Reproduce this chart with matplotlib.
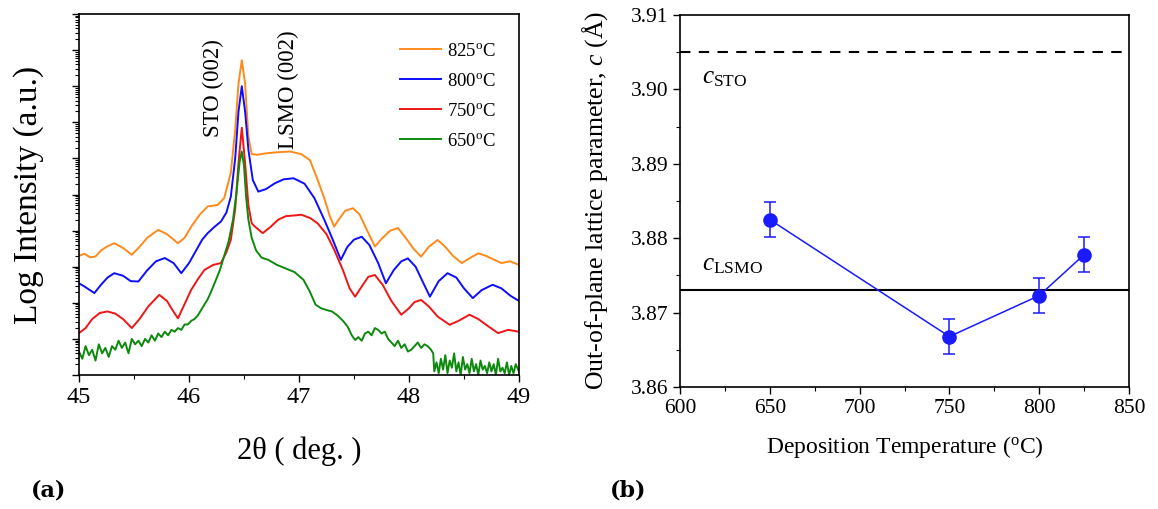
import matplotlib
matplotlib.use("Agg")
import numpy as np
import matplotlib.pyplot as plt
from matplotlib.ticker import LogLocator, MultipleLocator, NullFormatter, FormatStrFormatter

# ---- panel (a): XRD scans, values are log10(intensity) ----
x_825 = [45.00, 45.05, 45.10, 45.15, 45.20, 45.25, 45.32, 45.40, 45.48, 45.55,
         45.62, 45.72, 45.80, 45.90, 45.96, 46.02, 46.10, 46.17, 46.26, 46.32,
         46.38, 46.42, 46.45, 46.48, 46.51, 46.54, 46.57, 46.62, 46.70, 46.80,
         46.92, 47.02, 47.10, 47.17, 47.23, 47.28, 47.32, 47.36, 47.42, 47.49,
         47.55, 47.62, 47.69, 47.76, 47.83, 47.90, 47.97, 48.04, 48.11, 48.18,
         48.26, 48.33, 48.40, 48.48, 48.56, 48.63, 48.70, 48.77, 48.84, 48.92,
         49.00]
logi_825 = [3.30, 3.36, 3.26, 3.28, 3.45, 3.55, 3.65, 3.52, 3.33, 3.55,
            3.80, 4.02, 3.90, 3.65, 3.80, 4.11, 4.45, 4.67, 4.71, 4.90,
            5.60, 6.79, 8.07, 8.72, 8.07, 6.60, 6.12, 6.10, 6.14, 6.17,
            6.19, 6.12, 5.95, 5.40, 4.90, 4.40, 4.11, 4.30, 4.55, 4.62,
            4.45, 4.00, 3.56, 3.80, 4.00, 4.07, 3.80, 3.50, 3.28, 3.55,
            3.74, 3.55, 3.30, 3.10, 3.25, 3.37, 3.30, 3.20, 3.10, 3.15,
            3.05]

x_800 = [45.00, 45.05, 45.10, 45.14, 45.20, 45.26, 45.32, 45.40, 45.47, 45.54,
         45.62, 45.70, 45.78, 45.86, 45.93, 46.00, 46.05, 46.12, 46.17, 46.23,
         46.29, 46.34, 46.38, 46.42, 46.45, 46.48, 46.51, 46.54, 46.58, 46.63,
         46.70, 46.78, 46.86, 46.95, 47.05, 47.14, 47.23, 47.30, 47.38, 47.44,
         47.50, 47.57, 47.64, 47.72, 47.79, 47.86, 47.93, 47.99, 48.06, 48.13,
         48.19, 48.27, 48.35, 48.43, 48.50, 48.58, 48.66, 48.76, 48.84, 48.92,
         49.00]
logi_800 = [2.54, 2.45, 2.35, 2.27, 2.50, 2.70, 2.82, 2.75, 2.60, 2.59,
            2.90, 3.15, 3.24, 3.10, 2.82, 3.10, 3.37, 3.75, 3.93, 4.10,
            4.25, 4.50, 4.94, 6.00, 7.30, 8.00, 7.30, 6.24, 5.40, 5.08,
            5.15, 5.31, 5.42, 5.45, 5.30, 4.90, 4.30, 3.80, 3.19, 3.55,
            3.75, 3.83, 3.60, 3.10, 2.54, 2.90, 3.15, 3.23, 3.00, 2.55,
            2.17, 2.60, 2.82, 2.70, 2.40, 2.13, 2.35, 2.50, 2.40, 2.20,
            2.05]

x_750 = [45.00, 45.06, 45.12, 45.19, 45.26, 45.33, 45.40, 45.48, 45.55, 45.63,
         45.73, 45.80, 45.86, 45.90, 45.95, 46.02, 46.08, 46.14, 46.22, 46.29,
         46.34, 46.38, 46.42, 46.45, 46.48, 46.51, 46.54, 46.57, 46.60, 46.67,
         46.74, 46.81, 46.88, 46.96, 47.02, 47.10, 47.17, 47.25, 47.32, 47.40,
         47.46, 47.51, 47.57, 47.63, 47.69, 47.76, 47.84, 47.93, 48.00, 48.05,
         48.11, 48.18, 48.26, 48.37, 48.45, 48.55, 48.63, 48.72, 48.81, 48.90,
         49.00]
logi_750 = [1.16, 1.30, 1.55, 1.72, 1.76, 1.70, 1.55, 1.30, 1.55, 1.90,
            2.22, 2.05, 1.75, 1.57, 1.90, 2.36, 2.65, 2.91, 3.05, 3.10,
            3.40, 3.74, 4.60, 5.87, 6.85, 5.87, 4.70, 4.20, 4.11, 3.93,
            4.10, 4.30, 4.40, 4.42, 4.44, 4.35, 4.20, 3.90, 3.47, 2.90,
            2.40, 2.17, 2.45, 2.72, 2.77, 2.50, 2.05, 1.67, 1.85, 2.02,
            2.08, 1.90, 1.62, 1.39, 1.50, 1.67, 1.55, 1.35, 1.16, 1.25,
            1.20]

x_650 = [45.00, 45.03, 45.06, 45.09, 45.12, 45.15, 45.18, 45.21, 45.24, 45.27,
         45.30, 45.33, 45.36, 45.39, 45.42, 45.45, 45.48, 45.51, 45.54, 45.57,
         45.60, 45.63, 45.66, 45.69, 45.72, 45.75, 45.78, 45.81, 45.84, 45.87,
         45.90, 45.93, 45.96, 45.99, 46.02, 46.05, 46.08, 46.11, 46.14, 46.17,
         46.20, 46.24, 46.28, 46.32, 46.36, 46.40, 46.43, 46.46, 46.48, 46.50,
         46.52, 46.54, 46.57, 46.61, 46.66, 46.72, 46.80, 46.88, 46.96, 47.04,
         47.10, 47.15, 47.20, 47.25, 47.30, 47.35, 47.40, 47.44, 47.48, 47.51,
         47.54, 47.57, 47.60, 47.63, 47.66, 47.69, 47.72, 47.75, 47.78, 47.81,
         47.84, 47.87, 47.90, 47.93, 47.96, 47.99, 48.02, 48.05, 48.08, 48.11,
         48.14, 48.17, 48.20, 48.22, 48.23, 48.25, 48.27, 48.29, 48.31, 48.33,
         48.35, 48.37, 48.39, 48.41, 48.43, 48.45, 48.47, 48.49, 48.51, 48.53,
         48.55, 48.57, 48.59, 48.61, 48.63, 48.65, 48.67, 48.69, 48.71, 48.73,
         48.75, 48.77, 48.79, 48.81, 48.83, 48.85, 48.87, 48.89, 48.91, 48.93,
         48.95, 48.97, 49.00]
logi_650 = [0.65, 0.45, 0.80, 0.55, 0.70, 0.40, 0.85, 0.60, 0.75, 0.50,
            0.80, 0.70, 0.95, 0.75, 0.90, 0.60, 1.00, 0.85, 0.95, 0.80,
            1.00, 0.90, 1.10, 0.95, 1.15, 1.05, 1.20, 1.10, 1.25, 1.20,
            1.30, 1.25, 1.40, 1.40, 1.50, 1.55, 1.65, 1.80, 1.95, 2.10,
            2.30, 2.60, 2.90, 3.30, 3.70, 4.30, 5.00, 5.90, 6.19, 5.80,
            4.90, 4.30, 3.80, 3.45, 3.25, 3.19, 3.05, 2.95, 2.85, 2.64,
            2.30, 1.95, 1.85, 1.80, 1.76, 1.65, 1.50, 1.35, 1.10, 0.97,
            1.05, 0.95, 1.15, 1.20, 1.10, 1.30, 1.25, 1.15, 1.20, 1.00,
            0.90, 0.80, 0.95, 0.75, 0.85, 0.65, 0.70, 0.80, 0.90, 0.75,
            0.85, 0.80, 0.70, 0.60, 0.10, 0.35, 0.05, 0.45, 0.15, 0.55,
            0.05, 0.40, 0.20, 0.60, 0.10, 0.35, 0.00, 0.50, 0.15, 0.30,
            0.05, 0.45, 0.10, 0.30, 0.00, 0.40, 0.15, 0.25, 0.05, 0.35,
            0.10, 0.30, 0.00, 0.45, 0.10, 0.20, 0.05, 0.35, 0.00, 0.25,
            0.05, 0.30, 0.10]

scan_labels = ["825$^{\\mathrm{o}}$C", "800$^{\\mathrm{o}}$C",
               "750$^{\\mathrm{o}}$C", "650$^{\\mathrm{o}}$C"]
scan_colors = ["#ff8a1c", "#0d0dff", "#f01515", "#0d8a0d"]

# ---- panel (b): lattice parameter vs deposition temperature ----
temps = [650, 750, 800, 825]
c_param = [3.8825, 3.8668, 3.8723, 3.8778]
c_err = [0.0023, 0.0023, 0.0023, 0.0023]
c_sto = 3.905
c_lsmo = 3.873

plt.rcParams["font.family"] = ["Liberation Serif", "DejaVu Serif"]
plt.rcParams["mathtext.fontset"] = "custom"
plt.rcParams["mathtext.rm"] = "Liberation Serif"
plt.rcParams["mathtext.it"] = "Liberation Serif:italic"
plt.rcParams["mathtext.bf"] = "Liberation Serif:bold"

fig = plt.figure(figsize=(11.58, 5.09), dpi=100)
W, H = 1158.0, 509.0

# panel (a)
ax1 = fig.add_axes([79 / W, 1 - 375 / H, 440 / W, 361 / H])
scans = [(x_825, logi_825), (x_800, logi_800), (x_750, logi_750), (x_650, logi_650)]
for (xs, ls), lab, col in zip(scans, scan_labels, scan_colors):
    ax1.plot(xs, 10 ** np.array(ls), color=col, lw=1.4, label=lab)
ax1.set_yscale("log")
ax1.set_xlim(45, 49)
ax1.set_ylim(1, 1e10)
ax1.xaxis.set_major_locator(MultipleLocator(1))
ax1.xaxis.set_minor_locator(MultipleLocator(0.5))
ax1.yaxis.set_major_locator(LogLocator(base=10, numticks=15))
ax1.yaxis.set_minor_locator(LogLocator(base=10, subs=np.arange(2, 10), numticks=15))
ax1.yaxis.set_major_formatter(NullFormatter())
ax1.yaxis.set_minor_formatter(NullFormatter())
ax1.tick_params(which="major", direction="out", length=5, width=1.0, labelsize=17.5)
ax1.tick_params(which="minor", direction="out", length=3, width=0.8)
ax1.set_xlabel("2θ ( deg. )", fontsize=22)
ax1.set_ylabel("Log Intensity (a.u.)", fontsize=24)
ax1.xaxis.set_label_coords(0.5, -0.17)
ax1.yaxis.set_label_coords(-0.08, 0.5)
ax1.text(46.22, 10 ** 6.6, "STO (002)", rotation=90, ha="center", va="bottom", fontsize=16.5)
ax1.text(46.90, 10 ** 6.25, "LSMO (002)", rotation=90, ha="center", va="bottom", fontsize=16.5)
ax1.legend(loc="upper left", bbox_to_anchor=(0.73, 0.92), frameon=False, fontsize=13.5,
           handlelength=2.2, handletextpad=0.3, labelspacing=0.68,
           borderpad=0, borderaxespad=0)

# panel (b)
ax2 = fig.add_axes([680 / W, 1 - 387.2 / H, 449 / W, 372.4 / H])
ax2.axhline(c_sto, color="black", lw=1.5, ls=(0, (5, 4)))
ax2.axhline(c_lsmo, color="black", lw=1.5)
ax2.errorbar(temps, c_param, yerr=c_err, color="#1a1aff", lw=1.1, marker="o",
             markersize=9.5, capsize=4, elinewidth=1.1, capthick=1.1)
ax2.set_xlim(600, 850)
ax2.set_ylim(3.86, 3.91)
ax2.xaxis.set_major_locator(MultipleLocator(50))
ax2.xaxis.set_minor_locator(MultipleLocator(25))
ax2.yaxis.set_major_locator(MultipleLocator(0.01))
ax2.yaxis.set_minor_locator(MultipleLocator(0.005))
ax2.yaxis.set_major_formatter(FormatStrFormatter("%.2f"))
ax2.tick_params(which="major", direction="out", length=5, width=1.0, labelsize=15.5)
ax2.tick_params(which="minor", direction="out", length=3, width=0.8)
ax2.set_xlabel("Deposition Temperature ($^{\\mathrm{o}}$C)", fontsize=17)
ax2.set_ylabel("Out-of-plane lattice parameter, $c$ (Å)", fontsize=18.5)
ax2.xaxis.set_label_coords(0.5, -0.125)
ax2.yaxis.set_label_coords(-0.155, 0.5)
ax2.text(612.5, 3.9008, "$c_{\\mathrm{STO}}$", fontsize=18, ha="left", va="baseline")
ax2.text(612.5, 3.8757, "$c_{\\mathrm{LSMO}}$", fontsize=18, ha="left", va="baseline")

for ax in (ax1, ax2):
    for sp in ax.spines.values():
        sp.set_linewidth(1.2)

fig.text(31 / W, 1 - 490 / H, "(a)", fontsize=16, fontweight="bold", va="center",
         family=["DejaVu Serif"])
fig.text(610 / W, 1 - 490 / H, "(b)", fontsize=16, fontweight="bold", va="center",
         family=["DejaVu Serif"])

fig.savefig("out.png", dpi=100)
